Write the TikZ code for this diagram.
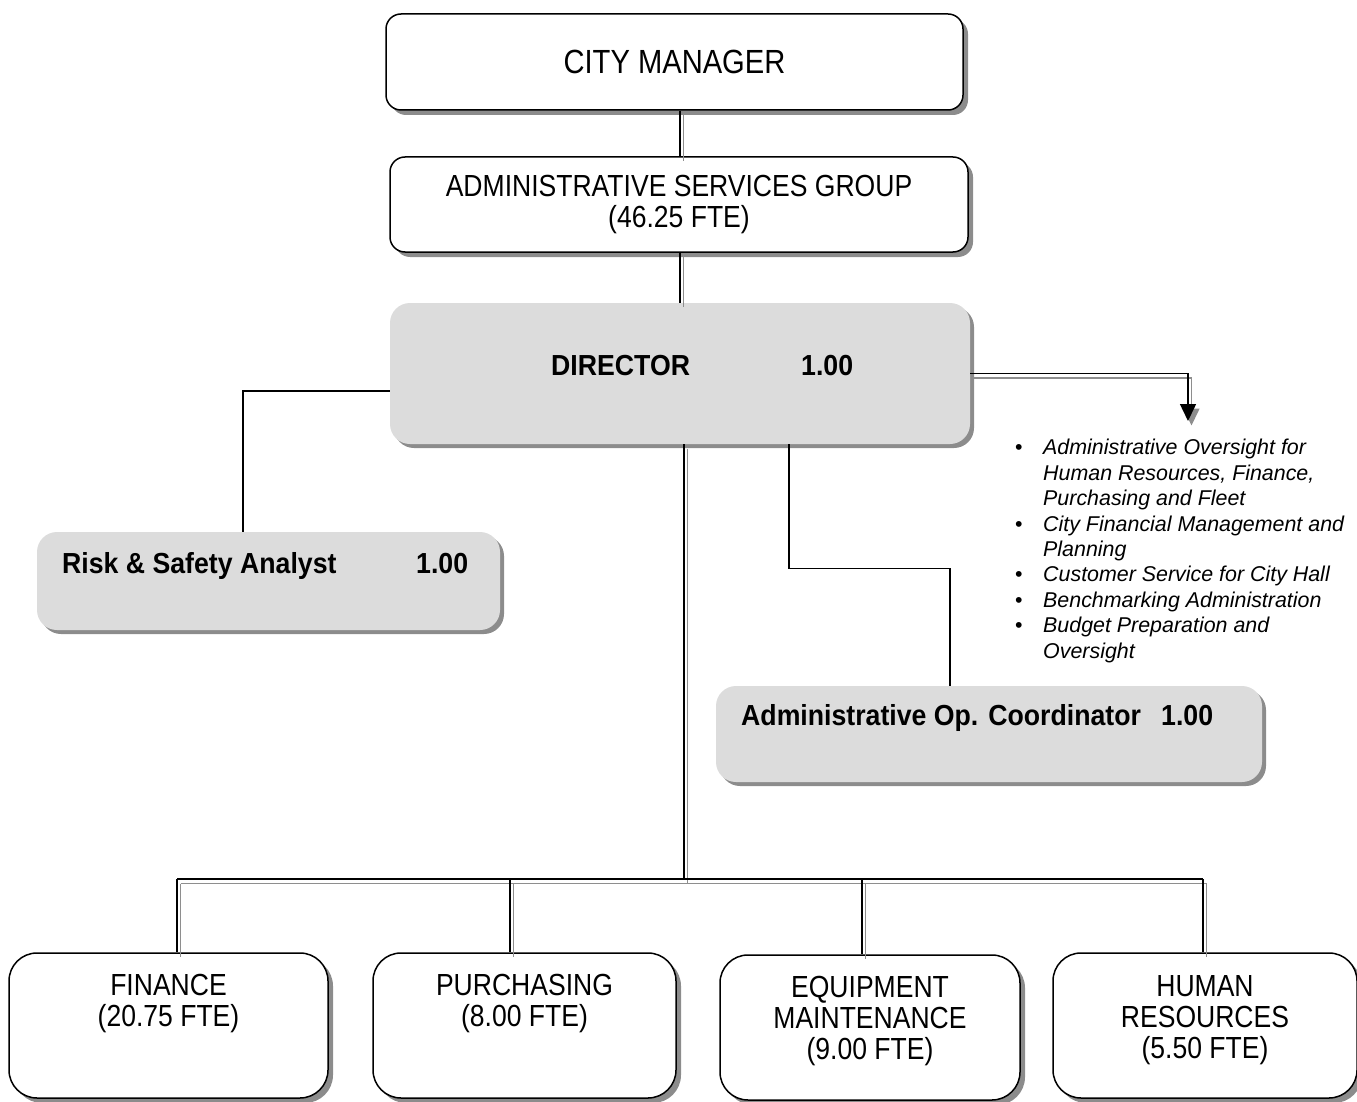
\documentclass[tikz,border=0pt]{standalone}
\usepackage{fontspec}
\setmainfont{Liberation Sans}
\newfontfamily\boxfont[FakeStretch=0.87]{Liberation Sans}
\newfontfamily\headfont[FakeStretch=0.92]{Liberation Sans}
\usetikzlibrary{arrows.meta,positioning,shadows}
\definecolor{boxgray}{HTML}{DCDCDC}
\definecolor{shadegray}{HTML}{8C8C8C}
\definecolor{linkgray}{HTML}{8E8E8E}
\tikzset{
  basebox/.style={rounded corners=15pt,minimum height=96pt,inner sep=0pt,align=center},
  whitebox/.style={basebox,draw=black,line width=1.5pt,fill=white,
    drop shadow={shadow xshift=5pt,shadow yshift=-5pt,fill=shadegray,opacity=1},
    font=\boxfont\fontsize{30.5}{31}\selectfont},
  graybox/.style={basebox,rounded corners=20pt,fill=boxgray,
    drop shadow={shadow xshift=4pt,shadow yshift=-4pt,fill=shadegray,opacity=1}},
  deptbox/.style={whitebox,rounded corners=28pt,minimum height=145pt},
  depttext/.style={font=\boxfont\fontsize{30.5}{31}\selectfont,align=center,inner sep=0pt,anchor=north},
  headtext/.style={font=\headfont\bfseries\fontsize{29}{31}\selectfont,inner sep=0pt,anchor=base west},
  duty/.style={font=\itshape\fontsize{21.4}{25.4}\selectfont,inner sep=0pt,anchor=north west},
  link/.style={line width=1.5pt,preaction={draw=linkgray,line width=1.5pt,transform canvas={shift={(3.5pt,-4.5pt)}}}},
  tie/.style={line width=1.4pt}
}

\begin{document}
\begin{tikzpicture}[x=1pt,y=1pt]
  \useasboundingbox (0,0) rectangle (1357,-1102);

  % top of the chart
  \node[whitebox,minimum width=577pt,font=\boxfont\fontsize{33.5}{34}\selectfont] (cm) at (674.5,-62) {CITY MANAGER};
  \node[whitebox,minimum width=578pt,minimum height=95pt] (asg) at (679,-204.5) {ADMINISTRATIVE SERVICES GROUP\\(46.25 FTE)};

  % director and staff positions
  \node[graybox,minimum width=580pt,minimum height=141pt] (dir) at (680,-373.5) {};
  \node[headtext] (dirT) at (551,-375) {DIRECTOR};
  \node[headtext] (dirN) at (801,-375) {1.00};

  \node[graybox,minimum width=463pt,minimum height=98pt] (risk) at (268.5,-581) {};
  \node[headtext] (riskT) at (62,-573) {Risk \& Safety Analyst};
  \node[headtext] (riskN) at (416,-573) {1.00};

  \node[graybox,minimum width=546pt,minimum height=96pt] (aoc) at (989,-734) {};
  \node[headtext] (aocT) at (741,-725) {Administrative Op. Coordinator};
  \node[headtext] (aocN) at (1161,-725) {1.00};

  % duties of the director
  \node[duty] (duties) at (1015,-437) {%
    \begin{tabular}{@{}l@{\hspace{20.5pt}}l@{}}
      {\upshape\textbullet} & Administrative Oversight for\\
       & Human Resources, Finance,\\
       & Purchasing and Fleet\\
      {\upshape\textbullet} & City Financial Management and\\
       & Planning\\
      {\upshape\textbullet} & Customer Service for City Hall\\
      {\upshape\textbullet} & Benchmarking Administration\\
      {\upshape\textbullet} & Budget Preparation and\\
       & Oversight
    \end{tabular}};
  \coordinate (tip) at (1188,-421);

  % divisions
  \node[deptbox,minimum width=319pt] (fin) at (168.5,-1025.5) {};
  \node[deptbox,minimum width=303pt] (pur) at (524.5,-1025.5) {};
  \node[deptbox,minimum width=300pt] (eqp) at (870,-1027.5) {};
  \node[deptbox,minimum width=304pt] (hr) at (1205,-1025.5) {};
  \node[depttext,below=22pt of fin.north] (finT) {FINANCE\\(20.75 FTE)};
  \node[depttext,below=22pt of pur.north] (purT) {PURCHASING\\(8.00 FTE)};
  \node[depttext,below=22pt of eqp.north] (eqpT) {EQUIPMENT\\MAINTENANCE\\(9.00 FTE)};
  \node[depttext,below=23pt of hr.north] (hrT) {HUMAN\\RESOURCES\\(5.50 FTE)};

  % reporting lines
  \draw[link] (cm.south -| dir.north) -- (asg.north -| dir.north);
  \draw[link] (asg.south -| dir.north) -- (dir.north);
  \draw[link,-{Triangle[width=16pt,length=17pt]}] (dir.east) -| (tip);
  \draw[tie] ([yshift=-17.5pt]dir.west) -| ([xshift=-25.5pt]risk.north);
  \draw[tie] ([xshift=109pt]dir.south) -- ++(0,-124) -| ([xshift=-39pt]aoc.north);

  \coordinate (bus) at (684,-879);
  \draw[link] ([xshift=4pt]dir.south) -- ([xshift=4pt]dir.south |- bus);
  \foreach \b/\dx in {fin/8.5,pur/-14.5,eqp/-8,hr/-2}
    \coordinate (top\b) at ([xshift=\dx pt]\b.north);
  \draw[link] (topfin |- bus) -- (tophr |- bus);
  \foreach \b in {fin,pur,eqp,hr}
    \draw[link] (top\b |- bus) -- (top\b);
\end{tikzpicture}
\end{document}
